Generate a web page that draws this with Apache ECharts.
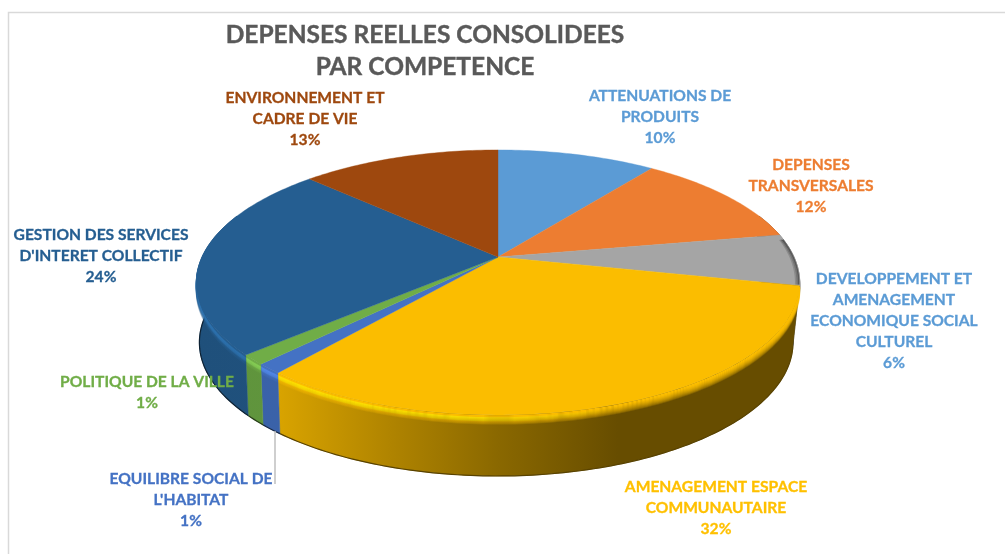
<!DOCTYPE html>
<html>
<head>
<meta charset="utf-8">
<script src="https://cdn.jsdelivr.net/npm/echarts@6/dist/echarts.min.js"></script>
<style>
  html, body { margin: 0; padding: 0; background: #fff; }
  #chart { width: 1005px; height: 554px; }
</style>
</head>
<body>
<div id="chart"></div>
<script>
// values, clockwise from 12 o'clock
const categories = [
  'ATTENUATIONS DE\nPRODUITS',
  'DEPENSES\nTRANSVERSALES',
  'DEVELOPPEMENT ET\nAMENAGEMENT\nECONOMIQUE SOCIAL\nCULTUREL',
  'AMENAGEMENT ESPACE\nCOMMUNAUTAIRE',
  'EQUILIBRE SOCIAL DE\nL\'HABITAT',
  'POLITIQUE DE LA VILLE',
  'GESTION DES SERVICES\nD\'INTERET COLLECTIF',
  'ENVIRONNEMENT ET\nCADRE DE VIE'
]
const shares = [10.2, 11.9, 6.3, 32.4, 1.2, 1.2, 23.8, 12.8]
const percentLabels = ['10%', '12%', '6%', '32%', '1%', '1%', '24%', '13%']

const sliceColors = ['#5B9BD5', '#ED7D31', '#A5A5A5', '#FBBD00', '#4472C4', '#70AD47', '#255E91', '#9E480E']
const labelColors = ['#5B9BD5', '#ED7D31', '#5B9BD5', '#FFC000', '#4472C4', '#70AD47', '#255E91', '#9E480E']
// centre of each label block
const labelCenters = [[660, 117], [811, 186], [894, 321], [716, 508], [191, 500], [147, 392], [101, 256], [305, 119]]

// pie geometry: tilted circle with a little perspective, apex is not the ellipse centre
const apexX = 498
const apexY = 257
const radiusX = 296
const radiusY = 127.6
const persp = 0.192
const FONT = 'Lato, "Open Sans", sans-serif'

const total = shares.reduce((a, b) => a + b, 0)
const startAngles = []
let running = 0
shares.forEach((v) => {
  startAngles.push(running / total * 360)
  running += v
})

function capPoint(deg, drop) {
  const t = deg * Math.PI / 180
  const w = 1 / (1 + persp * Math.cos(t))
  return [apexX + radiusX * Math.sin(t) * w, apexY - radiusY * Math.cos(t) * w + (drop || 0)]
}
// bottom of the wall: slightly narrower ellipse than the top, less so on the left
function basePoint(deg) {
  const p = capPoint(deg)
  const sx = p[0] < apexX ? 0.99 : 0.978
  return [apexX + (p[0] - apexX) * sx, 342 + (p[1] - 282) * 1.008]
}
function arc(from, to, fn) {
  const pts = []
  const n = Math.max(2, Math.ceil(to - from))
  for (let i = 0; i <= n; i++) pts.push(fn(from + (to - from) * i / n))
  return pts
}
// multiply the channels, f > 1 brightens
function scaleColor(color, f) {
  const c = echarts.color.parse(color)
  const ch = (v) => Math.min(255, Math.round(v * f))
  return 'rgb(' + ch(c[0]) + ',' + ch(c[1]) + ',' + ch(c[2]) + ')'
}
// wall gets darker from left to right
function shaded(color) {
  const stops = [[0, 0.85], [0.137, 0.86], [0.32, 0.7], [0.5, 0.55], [0.7, 0.41], [1, 0.41]]
  return {
    type: 'linear', x: 198, y: 0, x2: 798, y2: 0, global: true,
    colorStops: stops.map((s) => ({ offset: s[0], color: scaleColor(color, s[1]) }))
  }
}
// bevel along the rim: bright on the left, fades out on the right
function rimStroke(color, alpha, f) {
  const bright = scaleColor(color, f)
  return {
    type: 'linear', x: 198, y: 0, x2: 798, y2: 0, global: true,
    colorStops: [
      { offset: 0, color: echarts.color.modifyAlpha(bright, alpha) },
      { offset: 0.45, color: echarts.color.modifyAlpha(bright, alpha) },
      { offset: 0.7, color: echarts.color.modifyAlpha(color, alpha) },
      { offset: 1, color: echarts.color.modifyAlpha(color, alpha) }
    ]
  }
}

function renderWall(params, api) {
  const i = api.value(0)
  const from = Math.max(startAngles[i], 70)
  const to = Math.min(startAngles[i] + shares[i] / total * 360, 290)
  if (to <= from) return { type: 'group', children: [] }
  const top = arc(from, to, capPoint)
  const bottom = arc(from, to, basePoint).reverse()
  const children = [{
    type: 'polygon',
    shape: { points: top.concat(bottom) },
    style: { fill: shaded(sliceColors[i]), stroke: shaded(sliceColors[i]), lineWidth: 0.5 }
  }, {
    type: 'polyline',
    shape: { points: arc(from, to, basePoint) },
    style: { fill: null, stroke: scaleColor(sliceColors[i], 0.35), lineWidth: 1.2 }
  }]
  for (let j = 1; j <= 9; j++) {
    const f = j >= 3 && j <= 6 ? 1.2 : 1
    children.push({
      type: 'polyline',
      shape: { points: arc(from, to, (d) => capPoint(d, j)) },
      style: { fill: null, stroke: rimStroke(sliceColors[i], Math.min(1, 1.2 - j / 9), f), lineWidth: 1.4 }
    })
  }
  return { type: 'group', children: children }
}

function renderTop(params, api) {
  const i = api.value(0)
  const from = startAngles[i]
  const to = from + shares[i] / total * 360
  const children = [{
    type: 'polygon',
    shape: { points: [[apexX, apexY]].concat(arc(from, to, capPoint)) },
    style: { fill: sliceColors[i], stroke: sliceColors[i], lineWidth: 0.4 }
  }]
  // dark edge where the rim turns away on the right hand side
  const shadeFrom = Math.max(from, 82)
  const shadeTo = Math.min(to, 102)
  if (shadeTo > shadeFrom) {
    [[0.55, 0.003], [0.35, 0.008], [0.18, 0.013]].forEach((s) => {
      children.push({
        type: 'polyline',
        shape: {
          points: arc(shadeFrom, shadeTo, (d) => {
            const p = capPoint(d)
            return [apexX + (p[0] - apexX) * (1 - s[1]), p[1]]
          })
        },
        style: { fill: null, stroke: 'rgba(30,30,30,' + s[0] + ')', lineWidth: 1.5 }
      })
    })
  }
  return { type: 'group', children: children }
}

const sliceIndex = shares.map((v, i) => [i])
const labels = categories.map((name, i) => ({
  type: 'text',
  z: 10,
  x: labelCenters[i][0],
  y: labelCenters[i][1],
  style: {
    text: name + '\n' + percentLabels[i],
    fill: labelColors[i],
    stroke: labelColors[i],
    lineWidth: 0.3,
    font: 'bold 15.6px ' + FONT,
    lineHeight: 21,
    align: 'center',
    verticalAlign: 'middle'
  }
}))

const chart = echarts.init(document.getElementById('chart'), null, { renderer: 'canvas' })
chart.setOption({
  animation: false,
  backgroundColor: '#fff',
  title: {
    text: 'DEPENSES REELLES CONSOLIDEES\nPAR COMPETENCE',
    left: 420,
    top: 14,
    textAlign: 'center',
    textStyle: { color: '#595959', fontFamily: FONT, fontWeight: 'bold', fontSize: 24.5, lineHeight: 32, textBorderColor: '#595959', textBorderWidth: 0.4 }
  },
  graphic: [
    // chart frame, runs off the right and bottom of the crop
    { type: 'rect', shape: { x: 8.5, y: 12.5, width: 1100, height: 700 }, style: { fill: null, stroke: '#d9d9d9', lineWidth: 1.5 } },
    // leader line of EQUILIBRE SOCIAL DE L'HABITAT
    { type: 'line', z: 10, shape: { x1: 275, y1: 431, x2: 275, y2: 484 }, style: { stroke: '#bfbfbf', lineWidth: 1.5 } },
    ...labels
  ],
  series: [
    { type: 'custom', coordinateSystem: 'none', clip: false, silent: true, z: 2, data: sliceIndex, renderItem: renderWall },
    { type: 'custom', coordinateSystem: 'none', clip: false, silent: true, z: 3, data: sliceIndex, renderItem: renderTop }
  ]
})
</script>
</body>
</html>
